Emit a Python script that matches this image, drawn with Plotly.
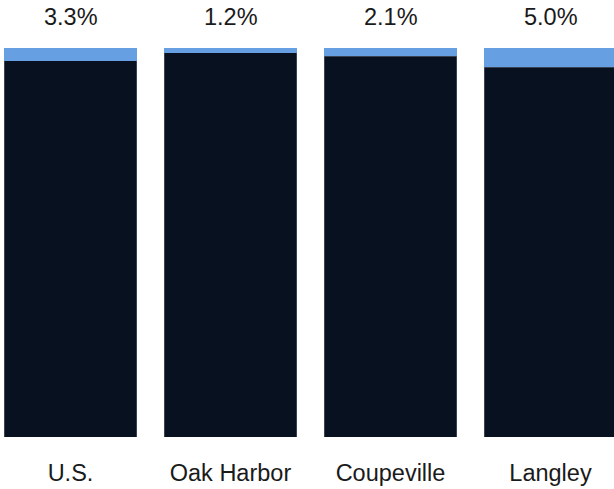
import plotly.graph_objects as go

categories = ["U.S.", "Oak Harbor", "Coupeville", "Langley"]
top_share = [3.3, 1.2, 2.1, 5.0]
top_labels = ["3.3%", "1.2%", "2.1%", "5.0%"]
rest_share = [100 - v for v in top_share]

dark = "#07111f"
light = "#679fe3"
text_color = "#1a1a1a"
font_family = "Liberation Sans, Arial, sans-serif"

fig = go.Figure()
fig.add_trace(go.Bar(x=categories, y=rest_share,
                     marker=dict(color=dark, line=dict(color="#6b7585", width=0.5)),
                     width=0.83, hoverinfo="skip"))
fig.add_trace(go.Bar(x=categories, y=top_share,
                     marker=dict(color=light, line=dict(width=0)),
                     width=0.83, hoverinfo="skip"))

for c, t in zip(categories, top_labels):
    fig.add_annotation(x=c, y=1, xref="x", yref="paper", text=t, showarrow=False,
                       yanchor="middle", yshift=31,
                       font=dict(size=23.5, color=text_color, family=font_family))

fig.update_layout(
    barmode="stack",
    width=614, height=489,
    margin=dict(l=0, r=0, t=48, b=52),
    paper_bgcolor="white", plot_bgcolor="white",
    showlegend=False,
    hovermode=False,
    xaxis=dict(range=[-0.4406, 3.3969], showgrid=False, zeroline=False, showline=False,
               ticks="", tickfont=dict(size=23.5, color=text_color, family=font_family),
               ticklabelstandoff=19, fixedrange=True),
    yaxis=dict(range=[0, 100], visible=False, fixedrange=True),
)

fig.write_html("out.html", config={"displayModeBar": False},
               post_script="document.body.style.margin='0px';")
